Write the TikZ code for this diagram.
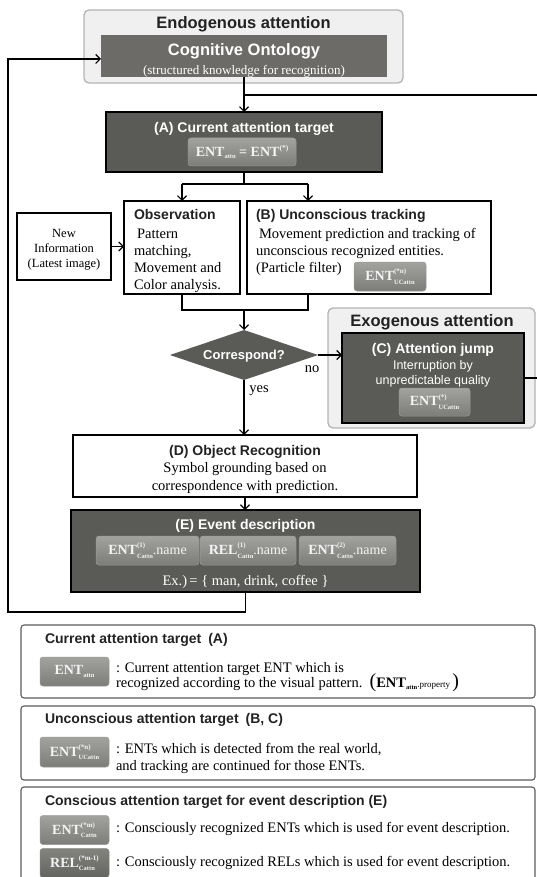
\documentclass[tikz,border=0pt]{standalone}
\usepackage{fontspec}
\setmainfont{Liberation Serif}
\setsansfont{Liberation Sans}
\usetikzlibrary{arrows.meta,shapes.geometric}
\newcommand\fs[1]{\fontsize{#1}{#1}\selectfont}
\newcommand\Esub[2]{#1\raisebox{-2.5pt}{\fs{6.5}#2}}
\newcommand\Esup[2]{#1\raisebox{5.5pt}{\fs{7.5}#2}}
\newcommand\Eboth[3]{#1\setbox0\hbox{\fs{7}#2}\setbox2\hbox{\fs{6.5}#3}\ifdim\wd0>\wd2 \wd2=\wd0\fi\rlap{\raisebox{6.8pt}{\box0}}\raisebox{-3.6pt}{\box2}}
\definecolor{dgray}{HTML}{5A5A56}
\definecolor{cogray}{HTML}{6C6B67}
\definecolor{grpfill}{HTML}{F0F0F0}
\definecolor{grpborder}{HTML}{B4B4B4}
\definecolor{chiptop}{HTML}{A2A29F}
\definecolor{chipbot}{HTML}{7C7C79}
\definecolor{chipdraw}{HTML}{9A9A96}
\definecolor{reltop}{HTML}{84847F}
\definecolor{relbot}{HTML}{63635F}
\definecolor{chiptext}{HTML}{F4F4F4}
\definecolor{legborder}{HTML}{5C5C5C}
\definecolor{txtdark}{HTML}{222222}
\begin{document}
\begin{tikzpicture}[x=1pt,y=-1pt,
  every node/.style={inner sep=0pt, outer sep=0pt},
  wbox/.style={draw=black, line width=1.1pt, fill=white},
  dbox/.style={draw=black, line width=1.3pt, fill=dgray},
  grp/.style={draw=grpborder, line width=1.3pt, fill=grpfill, rounded corners=5pt},
  legbox/.style={draw=legborder, line width=1.1pt, fill=white, rounded corners=3pt},
  chip/.style={rounded corners=3pt, top color=chiptop, bottom color=chipbot, draw=chipdraw, line width=0.5pt, text=chiptext, font=\bfseries\fs{14}},
  relchip/.style={chip, top color=reltop, bottom color=relbot, draw=reltop},
  gttl/.style={font=\sffamily\bfseries\fs{16.5}, text=txtdark},
  ttl/.style={font=\sffamily\bfseries\fs{14}, text=txtdark},
  body/.style={font=\fs{14.5}, text=black},
  small/.style={font=\fs{12.5}, text=black},
  conn/.style={line width=1.1pt, draw=black},
  arr/.style={conn, -{Straight Barb[length=4.5pt,width=9pt]}},
]
\useasboundingbox (0,0) rectangle (537,877);
\fill[white] (0,0) rectangle (537,877);

% ---------- Endogenous attention ----------
\node[grp, anchor=north west, minimum width=319pt, minimum height=73pt] (endo) at (84,10) {};
\node[gttl, anchor=base] (endoT) at (243.5,29) {Endogenous attention};
\node[fill=cogray, anchor=north west, minimum width=286pt, minimum height=42pt] (co) at (101,35) {};
\node[gttl, text=white, anchor=base] (coT) at (244,56) {Cognitive Ontology};
\node[font=\fs{13}, text=white, anchor=base] (coS) at (244,74.5) {(structured knowledge for recognition)};

% ---------- (A) ----------
\node[dbox, anchor=north west, minimum width=276pt, minimum height=60pt] (A) at (106,112) {};
\node[ttl, text=white, anchor=base] (AT) at (244,133) {(A) Current attention target};
\node[chip, minimum width=108pt, minimum height=28pt] (Ac) at (242,152) {\Esub{ENT}{attn} = \Esup{ENT}{(*)}};

% ---------- New information ----------
\node[wbox, anchor=north west, minimum width=94pt, minimum height=67pt] (ni) at (17,213) {};
\node[small, anchor=base] (ni1) at (64,237.5) {New};
\node[small, anchor=base] (ni2) at (64,252) {Information};
\node[small, anchor=base] (ni3) at (64,267.5) {(Latest image)};

% ---------- Observation ----------
\node[wbox, anchor=north west, minimum width=116pt, minimum height=93pt] (obs) at (124,201) {};
\node[ttl, anchor=base west] (obsT) at (134,220) {Observation};
\node[body, anchor=base west] (obs1) at (137,238) {Pattern};
\node[body, anchor=base west] (obs2) at (134,255.3) {matching,};
\node[body, anchor=base west] (obs3) at (134,272.6) {Movement and};
\node[body, anchor=base west] (obs4) at (134,289.9) {Color analysis.};

% ---------- (B) ----------
\node[wbox, anchor=north west, minimum width=244pt, minimum height=93pt] (B) at (247,201) {};
\node[ttl, anchor=base west] (BT) at (256,220) {(B) Unconscious tracking};
\node[body, anchor=base west] (B1) at (259,238) {Movement prediction and tracking of};
\node[body, anchor=base west] (B2) at (256,255.3) {unconscious recognized entities.};
\node[body, anchor=base west] (B3) at (256,272.6) {(Particle filter)};
\node[chip, minimum width=72pt, minimum height=29pt] (Bc) at (390,276.5) {\Eboth{ENT}{(*n)}{UCattn}};

% ---------- decision ----------
\node[diamond, fill=dgray, minimum width=148pt, minimum height=50pt] (dia) at (244,355) {};
\node[ttl, text=white, font=\sffamily\bfseries\fs{13}, anchor=base] (diaT) at (244,359.6) {Correspond?};
\node[body, anchor=base] (no) at (312,372) {no};
\node[body, anchor=base] (yes) at (259,392) {yes};

% ---------- Exogenous attention / (C) ----------
\node[grp, anchor=north west, minimum width=207pt, minimum height=120pt] (exo) at (328,308) {};
\node[gttl, anchor=base] (exoT) at (432,326) {Exogenous attention};
\node[dbox, anchor=north west, minimum width=182pt, minimum height=90pt] (C) at (342,333) {};
\node[ttl, text=white, anchor=base] (CT) at (433,353) {(C) Attention jump};
\node[font=\sffamily\fs{12.5}, text=white, anchor=base] (C1) at (433,369.5) {Interruption by};
\node[font=\sffamily\fs{12.5}, text=white, anchor=base] (C2) at (433,384.5) {unpredictable quality};
\node[chip, minimum width=71pt, minimum height=28pt] (Cc) at (434.5,402) {\Eboth{ENT}{(*)}{UCattn}};

% ---------- (D) ----------
\node[wbox, anchor=north west, minimum width=344pt, minimum height=62pt] (D) at (73,435) {};
\node[ttl, anchor=base] (DT) at (245,455) {(D) Object Recognition};
\node[body, anchor=base] (D1) at (245,472) {Symbol grounding based on};
\node[body, anchor=base] (D2) at (245,490) {correspondence with prediction.};

% ---------- (E) ----------
\node[dbox, anchor=north west, minimum width=349pt, minimum height=82pt] (E) at (71,510) {};
\node[ttl, text=white, anchor=base] (ET) at (245.5,529) {(E) Event description};
\node[chip, minimum width=103pt, minimum height=29pt] (Ec1) at (147.5,550.5) {\Eboth{ENT}{(1)}{Cattn}\mdseries.name};
\node[chip, minimum width=96pt, minimum height=29pt] (Ec2) at (248,550.5) {\Eboth{REL}{(1)}{Cattn}\mdseries.name};
\node[chip, minimum width=97pt, minimum height=29pt] (Ec3) at (347.5,550.5) {\Eboth{ENT}{(2)}{Cattn}\mdseries.name};
\node[body, text=white, anchor=base] (Ex) at (245.5,585) {Ex.)\,= \{ man, drink, coffee \}};

% ---------- connectors ----------
\coordinate (jA) at (244,95);
\coordinate (rt1) at (537,95);
\coordinate (sp) at (244,184);
\coordinate (spL) at (182,184);
\coordinate (spR) at (308,184);
\coordinate (mg) at (244,310);
\coordinate (mgL) at (182,310);
\coordinate (mgR) at (308,310);
\coordinate (rt2) at (537,378);
\coordinate (lpB) at (8,612);
\coordinate (lpT) at (8,59);

\draw[arr] (co.south) -- (A.north);
\draw[conn] (jA) -- (rt1);
\draw[conn] (A.south) -- (sp);
\draw[conn] (spL) -- (spR);
\draw[arr] (spL) -- (spL |- obs.north);
\draw[arr] (spR) -- (spR |- B.north);
\draw[arr] (ni.east) -- (ni.east -| obs.west);
\draw[conn] (obs.south) -- (mgL) -- (mgR) -- (mgR |- B.south);
\draw[arr] (mg) -- (dia.north);
\draw[arr] (dia.east) -- (dia.east -| C.west);
\draw[arr] (dia.south) -- (dia.south |- D.north);
\draw[arr] (D.south) -- (D.south |- E.north);
\draw[conn] (C.east) -- (rt2);
\draw[arr] (E.south) |- (lpB) -- (lpT) -- (lpT -| co.west);

% ---------- legend 1 ----------
\node[legbox, anchor=north west, minimum width=514pt, minimum height=73pt] (L1) at (21,625) {};
\node[ttl, anchor=base west] (L1T) at (45,643) {Current attention target\enspace(A)};
\node[chip, minimum width=69pt, minimum height=29pt] (L1c) at (74.5,671.5) {\Esub{ENT}{attn}};
\node[body, anchor=base west] (L1a) at (116,672) {: Current attention target ENT which is};
\node[body, anchor=base west] (L1b) at (116,687) {recognized according to the visual pattern.\enspace{\fs{20}(}\textbf{\Esub{ENT}{attn}}{\fs{9}.property}\,{\fs{20})}};

% ---------- legend 2 ----------
\node[legbox, anchor=north west, minimum width=514pt, minimum height=74pt] (L2) at (21,706) {};
\node[ttl, anchor=base west] (L2T) at (45,723) {Unconscious attention target\enspace(B, C)};
\node[chip, minimum width=69pt, minimum height=30pt] (L2c) at (74.5,752) {\Eboth{ENT}{(*n)}{UCattn}};
\node[body, anchor=base west] (L2a) at (116,753) {: ENTs which is detected from the real world,};
\node[body, anchor=base west] (L2b) at (116,770) {and tracking are continued for those ENTs.};

% ---------- legend 3 ----------
\node[legbox, anchor=north west, minimum width=514pt, minimum height=95pt] (L3) at (21,787) {};
\node[ttl, anchor=base west] (L3T) at (45,805) {Conscious attention target for event description (E)};
\node[chip, minimum width=69pt, minimum height=29pt] (L3c) at (74.5,830) {\Eboth{ENT}{(*m)}{Cattn}};
\node[body, anchor=base west] (L3a) at (116,832) {: Consciously recognized ENTs which is used for event description.};
\node[relchip, minimum width=69pt, minimum height=29pt] (L3r) at (74.5,863) {\Eboth{REL}{(*m-1)}{Cattn}};
\node[body, anchor=base west] (L3b) at (116,866) {: Consciously recognized RELs which is used for event description.};
\end{tikzpicture}
\end{document}
